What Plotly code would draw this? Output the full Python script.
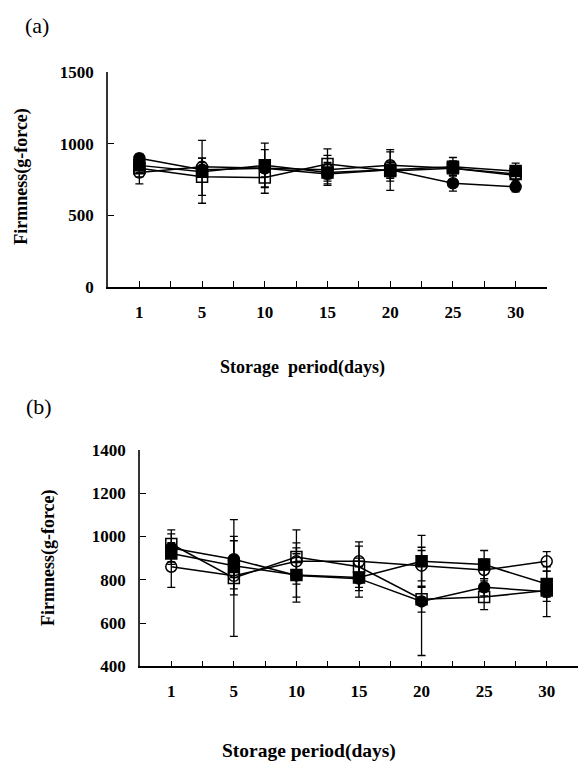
import plotly.graph_objects as go

days = ["1", "5", "10", "15", "20", "25", "30"]

# Panel (a)
a_open_circle = [800, 840, 830, 820, 850, 830, 780]
a_open_circle_err = [80, 60, 130, 100, 110, 50, 50]
a_open_square = [830, 770, 765, 860, 810, 830, 790]
a_open_square_err = [60, 130, 110, 105, 135, 50, 40]
a_filled_circle = [900, 820, 830, 790, 820, 725, 700]
a_filled_circle_err = [30, 50, 60, 80, 50, 55, 35]
a_filled_square = [850, 805, 850, 800, 820, 840, 810]
a_filled_square_err = [50, 220, 155, 60, 60, 65, 55]

# Panel (b)
b_open_circle = [860, 818, 885, 885, 865, 845, 885]
b_open_circle_err = [95, 60, 85, 90, 70, 50, 45]
b_open_square = [965, 808, 905, 860, 710, 720, 750]
b_open_square_err = [65, 270, 125, 95, 60, 58, 50]
b_filled_circle = [947, 895, 820, 805, 700, 765, 745]
b_filled_circle_err = [65, 85, 100, 55, 250, 40, 115]
b_filled_square = [921, 865, 822, 810, 885, 870, 780]
b_filled_square_err = [50, 135, 125, 90, 120, 65, 60]

W, H = 582, 769
FONT = "Liberation Serif"
idx = list(range(1, len(days) + 1))

fig = go.Figure()

def add_series(vals, errs, symbol, xa, ya):
    fig.add_trace(go.Scatter(
        x=idx, y=vals, mode="lines+markers", xaxis=xa, yaxis=ya,
        line=dict(color="black", width=1.5),
        marker=dict(symbol=symbol, size=11, color="black",
                    line=dict(color="black", width=1.5)),
        error_y=dict(type="data", array=errs, visible=True,
                     color="black", thickness=1.3, width=4),
        showlegend=False,
    ))

add_series(a_open_circle, a_open_circle_err, "circle-open", "x", "y")
add_series(a_open_square, a_open_square_err, "square-open", "x", "y")
add_series(a_filled_circle, a_filled_circle_err, "circle", "x", "y")
add_series(a_filled_square, a_filled_square_err, "square", "x", "y")

add_series(b_open_circle, b_open_circle_err, "circle-open", "x2", "y2")
add_series(b_open_square, b_open_square_err, "square-open", "x2", "y2")
add_series(b_filled_circle, b_filled_circle_err, "circle", "x2", "y2")
add_series(b_filled_square, b_filled_square_err, "square", "x2", "y2")

tickvals = [i * 0.5 for i in range(1, 2 * len(days) + 2)]
ticktext = [days[int(v) - 1] if float(v).is_integer() and 1 <= v <= len(days) else "" for v in tickvals]

tickfont = dict(family=FONT, size=17, color="black", weight="bold")

def xaxis(domain, anchor):
    return dict(domain=domain, anchor=anchor, range=[0.5, len(days) + 0.5],
                tickmode="array", tickvals=tickvals, ticktext=ticktext,
                ticks="inside", ticklen=6, tickcolor="black", tickwidth=1,
                showline=True, linecolor="black", linewidth=1.5,
                showgrid=False, zeroline=False, tickfont=tickfont,
                ticklabelstandoff=9)

def yaxis(domain, anchor, rng, dtick):
    return dict(domain=domain, anchor=anchor, range=rng, dtick=dtick,
                ticks="inside", ticklen=6, tickcolor="black", tickwidth=1,
                showline=True, linecolor="#333", linewidth=1.5,
                showgrid=False, zeroline=False, tickfont=tickfont,
                ticklabelstandoff=9)

fig.update_layout(
    width=W, height=H, margin=dict(l=0, r=0, t=0, b=0),
    paper_bgcolor="white", plot_bgcolor="white",
    xaxis=xaxis([108 / W, 547 / W], "y"),
    yaxis=yaxis([(H - 285) / H, (H - 65) / H], "x", [0, 1500], 500),
    xaxis2=xaxis([140 / W, 578 / W], "y2"),
    yaxis2=yaxis([(H - 674) / H, (H - 452) / H], "x2", [400, 1400], 200),
)

def ann(text, x, y, size, bold=True, angle=0):
    fig.add_annotation(text=f"<b>{text}</b>" if bold else text,
                       x=x / W, y=1 - y / H, xref="paper", yref="paper",
                       showarrow=False, textangle=angle,
                       font=dict(family=FONT, size=size, color="black"),
                       xanchor="center", yanchor="middle")

ann("(a)", 37, 17, 22, bold=False)
ann("(b)", 39, 408, 22, bold=False)
ann("Firmness(g-force)", 22, 172, 18, angle=-90)
ann("Firmness(g-force)", 48, 563, 18, angle=-90)
ann("Storage&nbsp;&nbsp;period(days)", 302, 368, 18)
ann("Storage period(days)", 309, 761, 19.5)

fig.write_html("out.html")
